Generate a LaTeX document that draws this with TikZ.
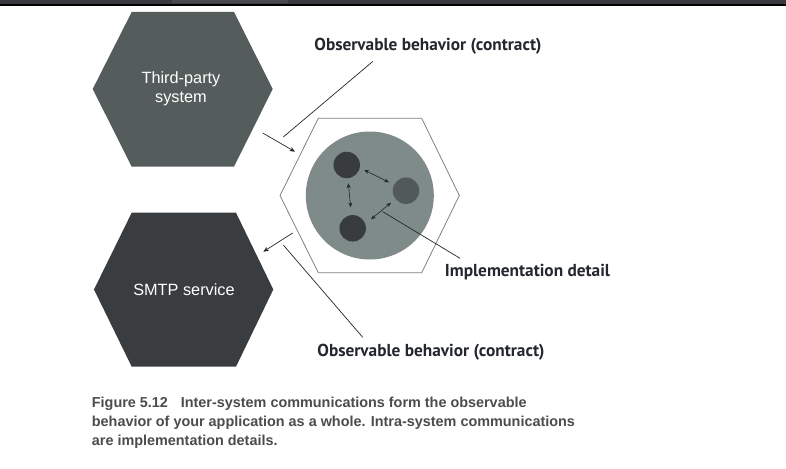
\documentclass[tikz,border=0pt]{standalone}
\usepackage{fontspec}
\setmainfont{Liberation Sans}
\newfontfamily\lblfont{PT Sans}
\newfontfamily\capfont{Liberation Sans}
\usetikzlibrary{arrows.meta}
\definecolor{hexA}{HTML}{555D5C}
\definecolor{hexB}{HTML}{393D40}
\definecolor{hexline}{HTML}{7A8583}
\definecolor{bigc}{HTML}{7F8B89}
\definecolor{darkc}{HTML}{383C3E}
\definecolor{midc}{HTML}{525A59}
\definecolor{lbl}{HTML}{23272E}
\definecolor{capc}{HTML}{4C4C4C}
\definecolor{barA}{HTML}{3A393E}
\definecolor{barB}{HTML}{4A494F}
\begin{document}
\begin{tikzpicture}[x=1pt,y=-1pt,
  conn/.style={draw=black!85,line width=0.7pt},
  arr/.style={conn,-{Stealth[length=5.5pt,width=4.5pt]}},
  darr/.style={conn,{Stealth[length=4.8pt,width=4pt]}-{Stealth[length=4.8pt,width=4pt]},line width=0.6pt},
  hextext/.style={text=white,font=\fontsize{16.3}{19}\selectfont,align=center},
  obs/.style={text=lbl,font=\lblfont\bfseries\fontsize{17.3}{20}\selectfont},
  captext/.style={text=capc,font=\capfont\bfseries\fontsize{14.4}{19.3}\selectfont,align=left,anchor=north west,inner sep=0pt}]
\useasboundingbox (0,0) rectangle (786,468);
\fill[white] (0,0) rectangle (786,468);
% top bar
\fill[barA] (0,0) rectangle (786,5);
\fill[barB] (172,0) rectangle (288,3);
\fill[black] (0,4.5) rectangle (786,5.8);
% hexagons
\fill[hexA] (131.7,12) -- (234,12) -- (272.7,89) -- (234,166.7) -- (131.7,166.7) -- (92.7,89) -- cycle;
\fill[hexB] (131.7,212.7) -- (236,212.7) -- (273.3,289.5) -- (236,366.7) -- (131.7,366.7) -- (94,289.5) -- cycle;
\draw[hexline,line width=0.8pt] (318.3,118.3) -- (421.7,118.3) -- (459.3,195.5) -- (421.7,272.7) -- (318.3,272.7) -- (280,195.5) -- cycle;
\node[hextext] (tp) at (181,88.5) {Third-party\\system};
\node[hextext] (smtp) at (184,289.3) {SMTP service};
% big circle
\node[circle,fill=bigc,minimum size=128pt,inner sep=0pt] (app) at (369.8,195.5) {};
\node[circle,fill=darkc,minimum size=26.5pt,inner sep=0pt] (c1) at (346.7,165) {};
\node[circle,fill=darkc,minimum size=26.5pt,inner sep=0pt] (c2) at (352.7,228.3) {};
\node[circle,fill=midc,minimum size=26.5pt,inner sep=0pt] (c3) at (406,190.7) {};
% internal arrows
\coordinate (a1s) at (364.3,170); \coordinate (a1e) at (389,182.3);
\coordinate (a2s) at (348.3,183.3); \coordinate (a2e) at (350.7,207.3);
\coordinate (a3s) at (391,202.7); \coordinate (a3e) at (371,219.3);
\draw[darr] (a1s) -- (a1e);
\draw[darr] (a2s) -- (a2e);
\draw[darr] (a3s) -- (a3e);
% labels
\node[obs] (obsT) at (428,46.5) {Observable behavior (contract)};
\node[obs] (obsB) at (431,352.5) {Observable behavior (contract)};
\node[obs] (impl) at (527.5,272.3) {Implementation detail};
% leader lines
\coordinate (lt1) at (372.7,61.5); \coordinate (lt2) at (283.3,137);
\coordinate (lb1) at (283.3,245); \coordinate (lb2) at (362.7,337.3);
\coordinate (li1) at (382.7,211.7); \coordinate (li2) at (460,258.3);
\draw[conn] (lt1) -- (lt2);
\draw[conn] (lb1) -- (lb2);
\draw[conn] (li1) -- (li2);
% external arrows
\coordinate (e1s) at (262.7,133); \coordinate (e1e) at (295,151.7);
\coordinate (e2s) at (292.7,233); \coordinate (e2e) at (263.3,251.7);
\draw[arr] (e1s) -- (e1e);
\draw[arr] (e2s) -- (e2e);
% caption
\node[captext] (cap) at (91.7,396.5) {Figure 5.12\hspace{0.9em}Inter-system communications form the observable\\behavior of your application as a whole. Intra-system communications\\are implementation details.};
\end{tikzpicture}
\end{document}
